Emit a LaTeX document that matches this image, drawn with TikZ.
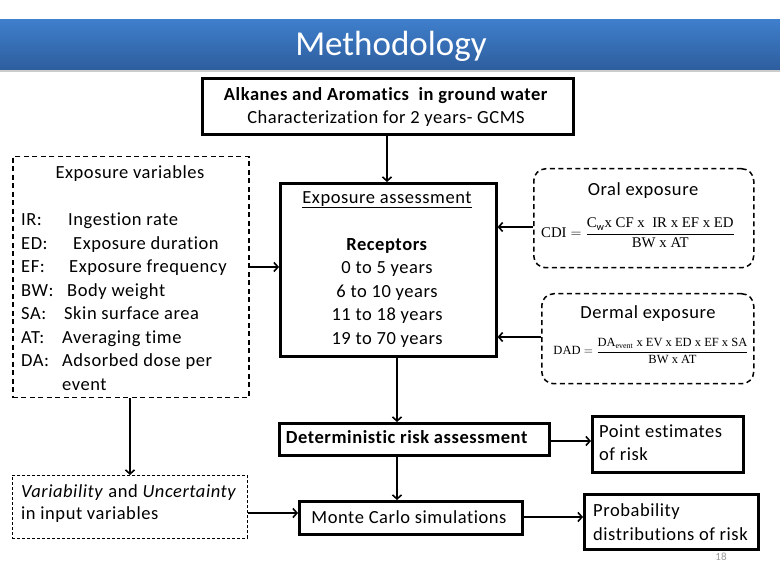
\documentclass[tikz,border=0pt]{standalone}
\usepackage{fontspec}
\setmainfont{Carlito}[Ligatures=NoCommon]
\newfontfamily\spaced{Carlito}[LetterSpace=3,Ligatures=NoCommon]
\newfontfamily\tnr{Liberation Serif}
\usetikzlibrary{arrows.meta}
\definecolor{bartop}{HTML}{3F7FCC}
\definecolor{barbot}{HTML}{2E5E9E}
\tikzset{
  thickbox/.style={draw=black,line width=2.6pt,inner sep=0pt},
  dashbox/.style={draw=black,line width=1.5pt,dash pattern=on 5pt off 3.5pt,inner sep=0pt},
  thindash/.style={draw=black,line width=0.8pt,dash pattern=on 3pt off 2pt,inner sep=0pt},
  conn/.style={line width=1.9pt,-{Straight Barb[length=4pt,width=9pt,line width=1.6pt]}},
  txt/.style={inner sep=0pt,font=\spaced\fontsize{18.5}{23.5}\selectfont},
}
\begin{document}
\begin{tikzpicture}[x=1pt,y=-1pt]
\useasboundingbox (0,0) rectangle (780,585);
% title bar
\fill[gray!40] (0,69) rectangle (780,72.5);
\node[anchor=north west,minimum width=780pt,minimum height=50pt,inner sep=0pt,
  top color=bartop,bottom color=barbot,draw=none] (bar) at (0,19) {};
\node[text=white,font=\fontsize{35}{36}\selectfont,inner sep=0pt,anchor=base] (title) at (391,56) {Methodology};
% top box
\node[thickbox,anchor=north west,minimum width=371pt,minimum height=56pt] (top) at (201,77) {};
\node[txt,align=center] (toptxt) at (386,107) {\textbf{Alkanes and Aromatics\ \ in ground water}\\Characterization for 2 years- GCMS};
% exposure variables
\node[dashbox,anchor=north west,minimum width=236pt,minimum height=241pt] (ev) at (12,156) {};
\node[txt,anchor=base] (evhead) at (130,179) {Exposure variables};
\node[txt,anchor=north west,align=left] (evtxt) at (21,213) {%
\makebox[47pt][l]{IR:}Ingestion rate\\
\makebox[52pt][l]{ED:}Exposure duration\\
\makebox[48pt][l]{EF:}Exposure frequency\\
\makebox[46pt][l]{BW:}Body weight\\
\makebox[43pt][l]{SA:}Skin surface area\\
\makebox[41pt][l]{AT:}Averaging time\\
\makebox[41pt][l]{DA:}Adsorbed dose per\\
\hspace*{41pt}event};
% exposure assessment
\node[thickbox,anchor=north west,minimum width=216pt,minimum height=173pt] (ea) at (279,182) {};
\node[txt,anchor=north,align=center] (eatxt) at (387,191) {\underline{Exposure assessment}\\[23.5pt]\textbf{Receptors}\\0 to 5 years\\6 to 10 years\\11 to 18 years\\19 to 70 years};
% oral
\node[dashbox,rounded corners=12pt,anchor=north west,minimum width=220pt,minimum height=99pt] (oral) at (533,168) {};
\node[txt,anchor=base] (oralhead) at (643,196) {Oral exposure};
\node[inner sep=0pt] (oralf) at (638,233) {\fontsize{14.8}{16}\selectfont$\displaystyle\mbox{\tnr CDI} = \frac{\mbox{\tnr C$_\mathrm{w}$x CF x\ \ IR x EF x ED}}{\mbox{\tnr BW x AT}}$};
% dermal
\node[dashbox,rounded corners=12pt,anchor=north west,minimum width=212pt,minimum height=90pt] (derm) at (541,293) {};
\node[txt,anchor=base] (dermhead) at (648,319) {Dermal exposure};
\node[inner sep=0pt] (dermf) at (651,351) {\fontsize{12.5}{14}\selectfont$\displaystyle\mbox{\tnr DAD} = \frac{\mbox{\tnr DA$_{\mbox{\tnr\fontsize{8}{9}\selectfont event}}$ x EV x ED x EF x SA}}{\mbox{\tnr BW x AT}}$};
% deterministic
\node[thickbox,anchor=north west,minimum width=270pt,minimum height=32pt] (det) at (278,422) {};
\node[txt,anchor=base] (dettxt) at (407,444) {\textbf{Deterministic risk assessment}};
% point estimates
\node[thickbox,anchor=north west,minimum width=151pt,minimum height=56pt] (pe) at (591,415) {};
\node[txt,anchor=base west,align=left] (petxt) at (599,438) {Point estimates};
\node[txt,anchor=base west,align=left] (petxt2) at (599,461) {of risk};
% variability
\node[thindash,anchor=north west,minimum width=235pt,minimum height=63pt] (var) at (12,475) {};
\node[txt,anchor=base west] (vartxt) at (21,497) {\textit{Variability} and \textit{Uncertainty}};
\node[txt,anchor=base west] (vartxt2) at (21,520) {in input variables};
% monte carlo
\node[thickbox,anchor=north west,minimum width=223pt,minimum height=33pt] (mc) at (298,500) {};
\node[txt,anchor=base] (mctxt) at (409,523) {Monte Carlo simulations};
% probability
\node[thickbox,anchor=north west,minimum width=174pt,minimum height=55pt] (pd) at (583,493) {};
\node[txt,anchor=base west] (pdtxt) at (593,516) {Probability};
\node[txt,anchor=base west] (pdtxt2) at (593,540) {distributions of risk};
% page number
\node[text=gray!80,font=\fontsize{11}{12}\selectfont,inner sep=0pt] (pg) at (721,557) {18};
% connectors
\draw[conn] (top.south -| 387,0) -- (ea.north -| 387,0);
\draw[conn] (ev.east |- 0,267) -- (ea.west |- 0,267);
\draw[conn] (oral.west |- 0,227) -- (ea.east |- 0,227);
\draw[conn] (derm.west |- 0,337) -- (ea.east |- 0,337);
\draw[conn] (ea.south -| 397,0) -- (det.north -| 397,0);
\draw[conn] (det.east |- 0,441) -- (pe.west |- 0,441);
\draw[conn] (det.south -| 397,0) -- (mc.north -| 397,0);
\draw[conn] (mc.east |- 0,517) -- (pd.west |- 0,517);
\draw[conn] (var.east |- 0,513) -- (mc.west |- 0,513);
\draw[conn] (ev.south -| 130,0) -- (var.north -| 130,0);
\end{tikzpicture}
\end{document}
